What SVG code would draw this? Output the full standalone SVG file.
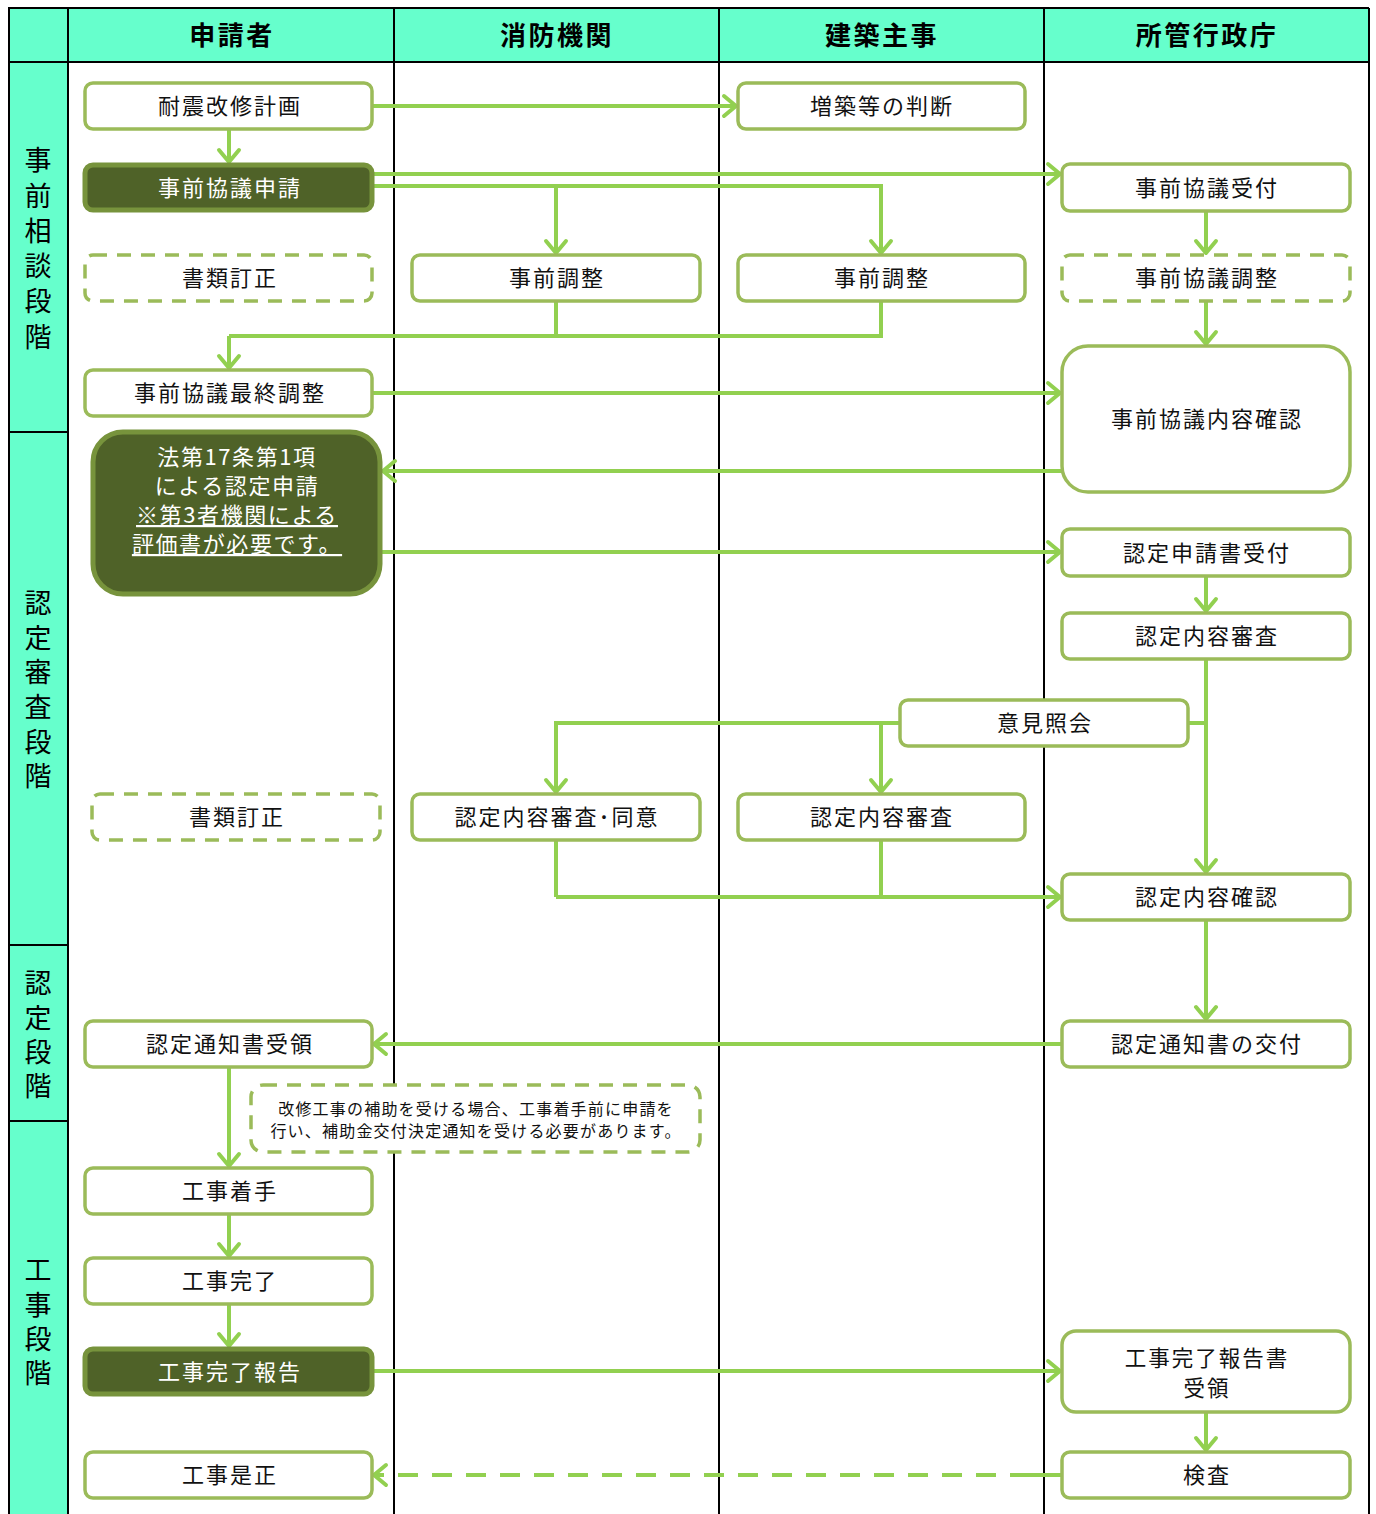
<svg xmlns="http://www.w3.org/2000/svg" width="1376" height="1514" viewBox="0 0 1376 1514">
<style>
text{font-family:"Noto Sans CJK JP","Noto Sans CJK SC",sans-serif;}
.hd{font-size:26px;font-weight:bold;fill:#000;text-anchor:middle;letter-spacing:2.5px;}
.ph{font-size:27px;fill:#000;writing-mode:vertical-rl;}
.t{font-size:22px;fill:#111;text-anchor:middle;letter-spacing:2px;}
.tw{font-size:22px;fill:#fff;text-anchor:middle;letter-spacing:2px;}
.nt{font-size:16px;fill:#111;text-anchor:middle;letter-spacing:1.2px;}
.n{fill:#fff;stroke:#9BBB59;stroke-width:3.5;}
.nd{fill:#fff;stroke:#9BBB59;stroke-width:3.5;stroke-dasharray:14 10;}
.dk{fill:#4F6228;stroke:#77933C;stroke-width:5;}
.c{fill:none;stroke:#92D050;stroke-width:4;}
.a{marker-end:url(#ar);}
.lane{stroke:#000;stroke-width:2;}
</style>
<defs>
<marker id="ar" markerUnits="userSpaceOnUse" markerWidth="18" markerHeight="26" viewBox="0 0 18 26" refX="15" refY="13" orient="auto">
<path d="M3,3 L15,13 L3,23" fill="none" stroke="#92D050" stroke-width="4" stroke-linecap="round" stroke-linejoin="round"/>
</marker>
</defs>
<rect x="0" y="0" width="1376" height="1514" fill="#fff"/>
<g id="frame">
<rect x="8" y="8" width="1361" height="54" fill="#66FFCC"/>
<rect x="8" y="62" width="60" height="1460" fill="#66FFCC"/>
<line class="lane" x1="8" y1="8" x2="1369" y2="8"/>
<line class="lane" x1="8" y1="62" x2="1369" y2="62"/>
<line class="lane" x1="9" y1="8" x2="9" y2="1514"/>
<line class="lane" x1="68" y1="8" x2="68" y2="1514"/>
<line class="lane" x1="394" y1="8" x2="394" y2="1514"/>
<line class="lane" x1="719" y1="8" x2="719" y2="1514"/>
<line class="lane" x1="1044" y1="8" x2="1044" y2="1514"/>
<line class="lane" x1="1369" y1="8" x2="1369" y2="1514"/>
<line class="lane" x1="8" y1="432" x2="68" y2="432"/>
<line class="lane" x1="8" y1="945" x2="68" y2="945"/>
<line class="lane" x1="8" y1="1121" x2="68" y2="1121"/>
<text class="hd" x="232" y="45">申請者</text>
<text class="hd" x="557" y="45">消防機関</text>
<text class="hd" x="882" y="45">建築主事</text>
<text class="hd" x="1207" y="45">所管行政庁</text>
<text class="ph" x="38" y="146.5" style="letter-spacing:8.3px">事前相談段階</text>
<text class="ph" x="38" y="589.5" style="letter-spacing:7.6px">認定審査段階</text>
<text class="ph" x="38" y="969.5" style="letter-spacing:7.3px">認定段階</text>
<text class="ph" x="38" y="1256.5" style="letter-spacing:7.3px">工事段階</text>
</g>
<g id="connectors">
<path class="c a" d="M372,106 H736"/>
<path class="c a" d="M229,129 V162"/>
<path class="c a" d="M373,174 H1060"/>
<path class="c a" d="M373,186 H881 V253"/>
<path class="c a" d="M556,186 V253"/>
<path class="c a" d="M1206,211 V253"/>
<path class="c" d="M556,301 V336"/>
<path class="c" d="M881,301 V336 H229"/>
<path class="c a" d="M229,336 V368"/>
<path class="c a" d="M1206,301 V344"/>
<path class="c a" d="M372,393 H1060"/>
<path class="c a" d="M1062,471 H383"/>
<path class="c a" d="M381,552 H1060"/>
<path class="c a" d="M1206,576 V611"/>
<path class="c a" d="M1206,659 V872"/>
<path class="c" d="M1188,723 H1206"/>
<path class="c a" d="M900,723 H556 V792"/>
<path class="c a" d="M881,723 V792"/>
<path class="c" d="M556,840 V897"/>
<path class="c" d="M881,840 V897"/>
<path class="c a" d="M556,897 H1060"/>
<path class="c a" d="M1206,920 V1019"/>
<path class="c a" d="M1062,1044 H374"/>
<path class="c a" d="M229,1067 V1166"/>
<path class="c a" d="M229,1214 V1256"/>
<path class="c a" d="M229,1304 V1346"/>
<path class="c a" d="M373,1371 H1060"/>
<path class="c a" d="M1206,1412 V1450"/>
<path class="c" d="M1062,1475 H1030"/>
<path class="c a" d="M1030,1475 H374" stroke-dasharray="20 14"/>
</g>
<g id="n1"><rect class="n" x="85" y="83" width="287" height="46" rx="8"/><text class="t" x="230" y="114">耐震改修計画</text></g>
<g id="n2"><rect class="dk" x="85" y="165" width="287" height="45" rx="8"/><text class="tw" x="230" y="196">事前協議申請</text></g>
<g id="n3"><rect class="nd" x="85" y="255" width="287" height="46" rx="8"/><text class="t" x="230" y="286">書類訂正</text></g>
<g id="n4"><rect class="n" x="412" y="255" width="288" height="46" rx="8"/><text class="t" x="557" y="286">事前調整</text></g>
<g id="n5"><rect class="n" x="738" y="255" width="287" height="46" rx="8"/><text class="t" x="882" y="286">事前調整</text></g>
<g id="n6"><rect class="n" x="738" y="83" width="287" height="46" rx="8"/><text class="t" x="882" y="114">増築等の判断</text></g>
<g id="n7"><rect class="n" x="1062" y="164" width="288" height="47" rx="8"/><text class="t" x="1207" y="196">事前協議受付</text></g>
<g id="n8"><rect class="nd" x="1062" y="255" width="288" height="46" rx="8"/><text class="t" x="1207" y="286">事前協議調整</text></g>
<g id="n9"><rect class="n" x="85" y="370" width="287" height="46" rx="8"/><text class="t" x="230" y="401">事前協議最終調整</text></g>
<g id="n10"><rect class="n" x="1062" y="346" width="288" height="146" rx="26"/><text class="t" x="1207" y="427">事前協議内容確認</text></g>
<g id="n11"><rect class="dk" x="93" y="432" width="287" height="162" rx="30"/>
<text class="tw" x="237" y="465" style="letter-spacing:1.6px"><tspan x="237">法第17条第1項</tspan><tspan x="237" dy="29">による認定申請</tspan><tspan x="237" dy="29" text-decoration="underline">※第3者機関による</tspan><tspan x="237" dy="29" text-decoration="underline">評価書が必要です。</tspan></text></g>
<g id="n12"><rect class="n" x="1062" y="529" width="288" height="47" rx="8"/><text class="t" x="1207" y="561">認定申請書受付</text></g>
<g id="n13"><rect class="n" x="1062" y="613" width="288" height="46" rx="8"/><text class="t" x="1207" y="644">認定内容審査</text></g>
<g id="n14"><rect class="n" x="900" y="700" width="288" height="46" rx="8"/><text class="t" x="1045" y="731">意見照会</text></g>
<g id="n15"><rect class="nd" x="92" y="794" width="288" height="46" rx="8"/><text class="t" x="237" y="825">書類訂正</text></g>
<g id="n16"><rect class="n" x="412" y="794" width="288" height="46" rx="8"/><text class="t" x="557" y="825">認定内容審査･同意</text></g>
<g id="n17"><rect class="n" x="738" y="794" width="287" height="46" rx="8"/><text class="t" x="882" y="825">認定内容審査</text></g>
<g id="n18"><rect class="n" x="1062" y="874" width="288" height="46" rx="8"/><text class="t" x="1207" y="905">認定内容確認</text></g>
<g id="n19"><rect class="n" x="85" y="1021" width="287" height="46" rx="8"/><text class="t" x="230" y="1052">認定通知書受領</text></g>
<g id="n20"><rect class="n" x="1062" y="1021" width="288" height="46" rx="8"/><text class="t" x="1207" y="1052">認定通知書の交付</text></g>
<g id="n21"><rect class="nd" x="251" y="1085" width="449" height="67" rx="12"/>
<text class="nt" x="476" y="1115"><tspan x="476">改修工事の補助を受ける場合、工事着手前に申請を</tspan><tspan x="476" dy="22">行い、補助金交付決定通知を受ける必要があります。</tspan></text></g>
<g id="n22"><rect class="n" x="85" y="1168" width="287" height="46" rx="8"/><text class="t" x="230" y="1199">工事着手</text></g>
<g id="n23"><rect class="n" x="85" y="1258" width="287" height="46" rx="8"/><text class="t" x="230" y="1289">工事完了</text></g>
<g id="n24"><rect class="dk" x="85" y="1349" width="287" height="45" rx="8"/><text class="tw" x="230" y="1380">工事完了報告</text></g>
<g id="n25"><rect class="n" x="1062" y="1331" width="288" height="81" rx="14"/><text class="t" x="1207" y="1366" style="font-size:21.5px"><tspan x="1207">工事完了報告書</tspan><tspan x="1207" dy="30">受領</tspan></text></g>
<g id="n26"><rect class="n" x="85" y="1452" width="287" height="46" rx="8"/><text class="t" x="230" y="1483">工事是正</text></g>
<g id="n27"><rect class="n" x="1062" y="1452" width="288" height="46" rx="8"/><text class="t" x="1207" y="1483">検査</text></g>
</svg>
